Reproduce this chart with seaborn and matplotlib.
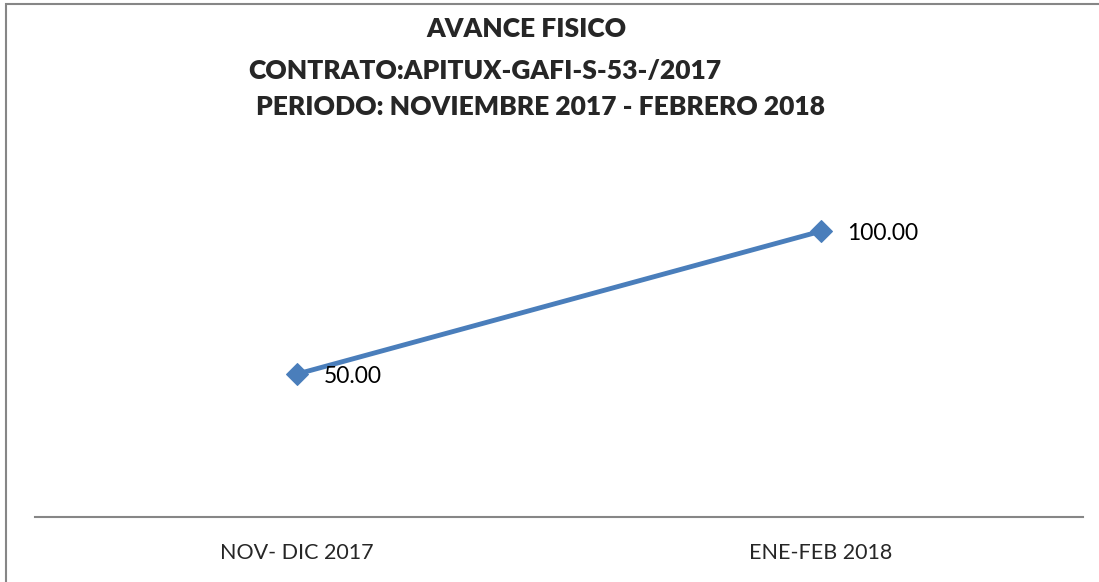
import pandas as pd
import seaborn as sns
from matplotlib import pyplot as plt
from matplotlib.patches import Rectangle

periodos = ['NOV- DIC 2017', 'ENE-FEB 2018']
avance = [50.00, 100.00]


def plot_graph():
    df = pd.DataFrame({'periodo': periodos, 'avance': avance})

    sns.set_style('white')
    plt.rcParams['font.family'] = ['Lato', 'DejaVu Sans']

    fig = plt.figure(figsize=(10.99, 5.82), dpi=100)
    ax = fig.add_axes([35 / 1099, 1 - 517 / 582, 1048 / 1099, 343 / 582])

    sns.lineplot(x='periodo', y='avance', data=df, ax=ax, color='#4A7EBB',
                 linewidth=3.5, marker='D', markersize=11, markeredgecolor='#4A7EBB')

    for i, v in enumerate(avance):
        ax.annotate('%.2f' % v, (i, v), xytext=(19, -2), textcoords='offset points',
                    ha='left', va='center', fontsize=16.5, color='black')

    ax.set_xlim(-0.5, 1.5)
    ax.set_ylim(0, 120)
    ax.set_xlabel('')
    ax.set_ylabel('')
    ax.set_yticks([])
    ax.tick_params(axis='x', length=0, pad=19, labelsize=15.5)
    for s in ['top', 'right', 'left']:
        ax.spines[s].set_visible(False)
    ax.spines['bottom'].set_color('#868686')
    ax.spines['bottom'].set_linewidth(1.5)

    # marco del grafico (recortado a la derecha y abajo)
    fig.patches.append(Rectangle((6 / 1099, -0.1), 1.2, 1.1 - 3.5 / 582,
                                 transform=fig.transFigure, fill=False,
                                 edgecolor='#868686', linewidth=1.5))

    fig.text(526 / 1099, 1 - 29 / 582, 'AVANCE FISICO', ha='center', va='center',
             fontsize=19, fontweight='heavy')
    fig.text(485 / 1099, 1 - 71 / 582, 'CONTRATO:APITUX-GAFI-S-53-/2017', ha='center',
             va='center', fontsize=19, fontweight='heavy')
    fig.text(540 / 1099, 1 - 107 / 582, 'PERIODO: NOVIEMBRE 2017 - FEBRERO 2018',
             ha='center', va='center', fontsize=19, fontweight='heavy')

    plt.savefig('out.png', dpi=100)


if __name__ == '__main__':
    plot_graph()
